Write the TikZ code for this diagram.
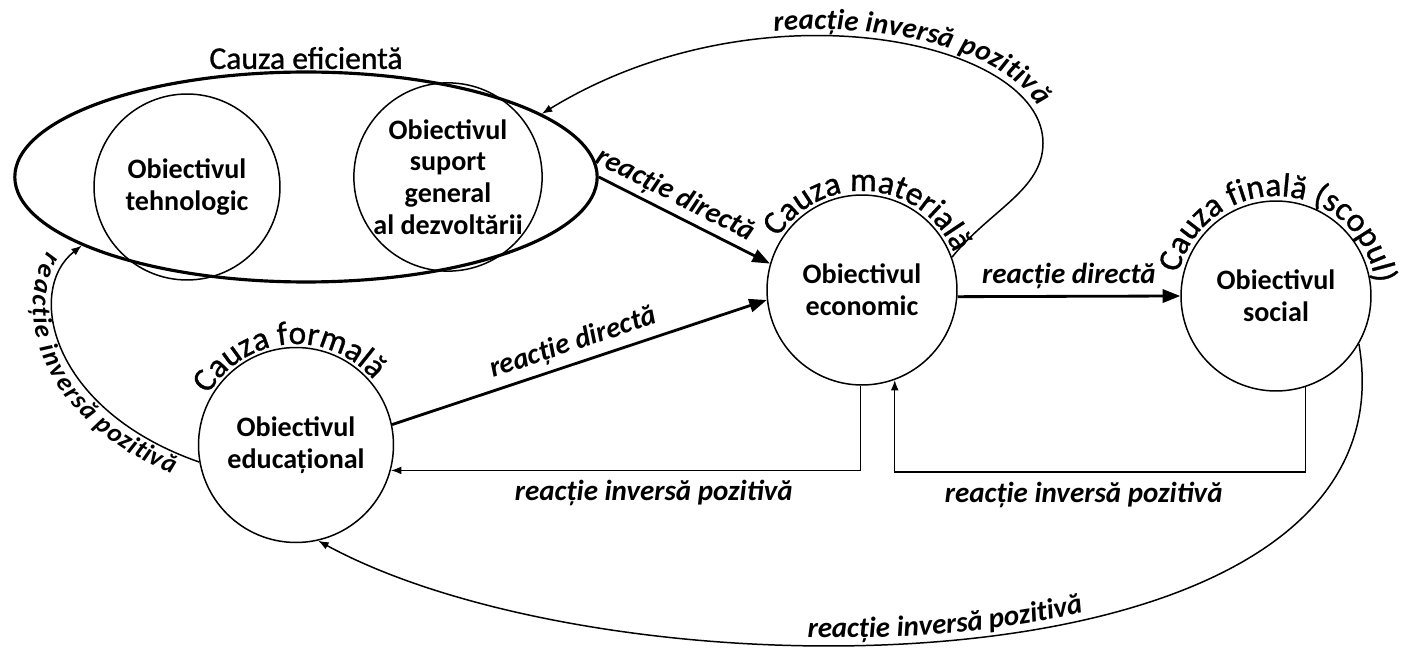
\documentclass[tikz,border=0pt]{standalone}
\usepackage{fontspec}
\setmainfont{Carlito}
\newfontfamily\causefam{Carlito}[FakeBold=1]
\usetikzlibrary{positioning,arrows.meta,decorations.text,shapes.geometric}
\newcommand*{\objfont}{\fontsize{16}{18}\selectfont\bfseries}
\newcommand*{\causefont}{\causefam\fontsize{18}{21}\selectfont}
\newcommand*{\reactfont}{\fontsize{16.5}{19}\selectfont\bfseries\itshape}
\newcommand*{\reactsmall}{\fontsize{15}{18}\selectfont\bfseries\itshape}

\begin{document}
\begin{tikzpicture}[x=0.02cm, y=-0.02cm, line width=0.85pt,
  obj/.style={circle, draw, minimum size=3.8cm, inner sep=0pt, align=center, font=\objfont},
  direct/.style={line width=1.6pt, -{Triangle[length=10pt,width=7.5pt]}},
  inverse/.style={-{Latex[length=6pt,width=4.5pt]}},
  react/.style={font=\reactfont},
  causetext/.style={decorate, decoration={text along path, text align=center, text={|\causefam\fontsize{19}{22}\selectfont|#1}}},
  revtext/.style n args={3}{postaction={decorate, decoration={text along path, reverse path, text align={#2}, raise=#1, text={#3}}}}]
\useasboundingbox (0,0) rectangle (1410,648);

% cauza eficienta
\node[ellipse, draw, line width=1.8pt, minimum width=11.65cm, minimum height=4.2cm] (eff) at (306,177) {};
\node[obj, minimum size=3.72cm] (tech) at (187,187) {Obiectivul\\tehnologic};
\node[obj, minimum size=3.7cm] (supp) at (448,177) {Obiectivul\\suport\\general\\al dezvoltării};
\node[font=\causefont, above=-3pt of eff] (effcap) {Cauza eficientă};

% celelalte cauze
\node[obj] (econ) at (862,290) {Obiectivul\\economic};
\node[obj] (soc) at (1276,296) {Obiectivul\\social};
\node[obj, minimum size=3.9cm] (edu) at (296,445) {Obiectivul\\educațional};
\path[causetext=Cauza materială] (econ.center) ++(165:1.98cm) arc[start angle=165, end angle=5, radius=1.98cm];
\path[causetext=Cauza finală (scopul)] (soc.center) ++(180:2cm) arc[start angle=180, end angle=-6, radius=2cm];
\path[causetext=Cauza formală] (edu.center) ++(180:2.02cm) arc[start angle=180, end angle=10, radius=2.02cm];

% reactii directe
\draw[direct] (eff.east) -- node[react, sloped, above=-1pt, pos=0.4] {reacție directă} (econ.164);
\draw[direct] (edu.12) -- node[react, sloped, above] {reacție directă} (econ.186);
\draw[direct] (econ.-4) -- node[react, above] {reacție directă} (soc.west);

% reactii inverse
\draw[inverse] (econ.-91) |- node[react, pos=0.72, below=2pt] {reacție inversă pozitivă} (edu.-15);
\draw[inverse] (soc.-72) -- ++(0,85) -| node[react, pos=0.27, below=2pt] {reacție inversă pozitivă} (econ.-70);
\draw[inverse, revtext={4pt}{right, right indent=105pt}{|\reactfont|reacție inversă pozitivă}] (econ.20) .. controls (990,210) and (1043,190) .. (1043,143) .. controls (1043,40) and (760,-20) .. (eff.15);
\draw[inverse, revtext={-12pt}{left, left indent=13pt}{|\reactsmall|reacție inversă pozitivă}] (edu.190) .. controls (50,410) and (25,290) .. (eff.197);
\draw[inverse, revtext={4pt}{center, left indent=40pt}{|\reactfont|reacție inversă pozitivă}] (soc.-30) .. controls (1420,700) and (620,705) .. (edu.-77);
\end{tikzpicture}
\end{document}
